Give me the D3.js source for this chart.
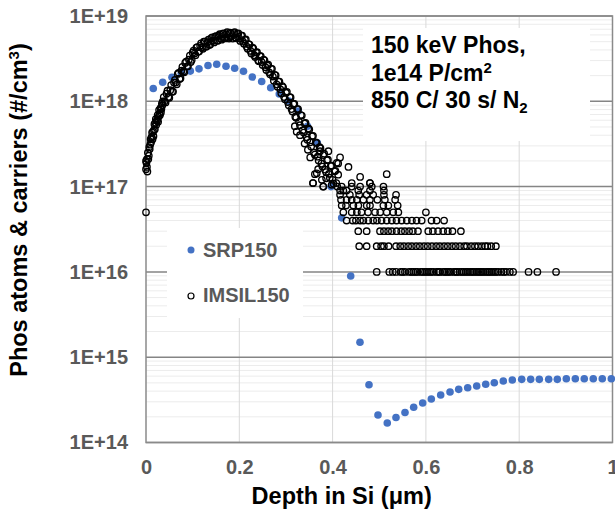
<!DOCTYPE html>
<html>
<head>
<meta charset="utf-8">
<script src="https://cdn.jsdelivr.net/npm/d3@7"></script>
<style>
body { margin: 0; background: #fff; }
text { font-family: "Liberation Sans", Arial, sans-serif; font-weight: bold; }
</style>
</head>
<body>
<svg id="view" width="615" height="514"></svg>
<script>
// SRP150 (carriers), depth in um, conc in #/cm3
var srpDepth = [0.0156,0.0358,0.0557,0.0757,0.095,0.1136,0.1329,0.1516,0.1715,0.1901,0.209,0.2279,0.248,0.2673,0.2857,0.3059,0.3265,0.3462,0.3672,0.3966,0.4195,0.4388,0.4587,0.478,0.4973,0.5172,0.5359,0.5552,0.5738,0.5931,0.6116,0.6317,0.6517,0.6703,0.6896,0.7089,0.7282,0.7466,0.7659,0.7852,0.8054,0.8246,0.8431,0.8632,0.8817,0.901,0.9203,0.9395,0.9588,0.9781,0.9975];
var srpConc = [1.41e18,1.67e18,1.91e18,2.13e18,2.26e18,2.40e18,2.63e18,2.72e18,2.58e18,2.44e18,2.25e18,1.93e18,1.71e18,1.44e18,1.22e18,1.01e18,7.7e17,5.1e17,3.27e17,1.0e17,4.3e16,8.95e15,1.5e15,4.76e14,2.1e14,1.69e14,1.96e14,2.25e14,2.59e14,2.9e14,3.24e14,3.6e14,3.91e14,4.2e14,4.39e14,4.6e14,4.81e14,5.02e14,5.26e14,5.41e14,5.5e14,5.5e14,5.5e14,5.5e14,5.5e14,5.6e14,5.6e14,5.6e14,5.6e14,5.6e14,5.6e14];

// IMSIL150 (atoms): main profile [depth, conc]
var imsilBody = [
[0.000,1.6e17],[0.000,2.0e17],[0.000,5.0e16],[0.002,2.1e17],[0.002,1.7e17],[0.003,1.5e17],
[0.004,2.5e17],[0.006,2.3e17],[0.008,2.75e17],[0.010,3.6e17],[0.012,3.8e17],[0.014,3.6e17],
[0.016,3.9e17],[0.018,5.4e17],[0.020,5.6e17],[0.022,5.3e17],[0.024,6.0e17],[0.026,5.75e17],
[0.028,7.9e17],[0.030,6.9e17],[0.032,7.4e17],[0.034,9.4e17],[0.036,1.0e18],[0.040,1.0e18],
[0.044,1.23e18],[0.048,1.12e18],[0.052,1.35e18],[0.056,1.29e18],[0.060,1.66e18],[0.064,1.66e18],
[0.068,2.09e18],[0.072,1.82e18],[0.076,2.29e18],[0.080,2.24e18],[0.084,2.82e18],[0.088,2.57e18],
[0.092,3.09e18],[0.096,2.88e18],[0.100,3.72e18],[0.104,3.63e18],[0.108,4.27e18],[0.112,3.8e18],
[0.116,4.47e18],[0.120,4.27e18],[0.124,5.0e18],[0.128,4.37e18],[0.132,4.95e18],[0.136,4.57e18],
[0.140,5.5e18],[0.144,5.13e18],[0.148,5.75e18],[0.152,5.13e18],[0.156,5.9e18],[0.160,5.43e18],
[0.164,6.17e18],[0.168,5.5e18],[0.172,6.1e18],[0.176,5.56e18],[0.180,6.38e18],[0.184,5.82e18],
[0.188,6.31e18],[0.192,5.56e18],[0.196,6.17e18],[0.200,5.43e18],[0.204,5.9e18],[0.208,5.0e18],
[0.212,5.25e18],[0.216,4.37e18],[0.220,4.68e18],[0.224,3.89e18],[0.228,4.27e18],[0.232,3.47e18],
[0.236,3.72e18],[0.240,3.02e18],[0.244,3.39e18],[0.248,2.88e18],[0.252,3.09e18],[0.256,2.51e18],
[0.260,2.63e18],[0.264,2.19e18],[0.268,2.4e18],[0.272,1.95e18],[0.276,2.04e18],[0.280,1.58e18],
[0.284,1.7e18],[0.288,1.38e18],[0.292,1.51e18],[0.296,1.12e18],[0.300,1.26e18],[0.304,9.8e17],
[0.308,1.12e18],[0.312,8.1e17],[0.316,9.3e17],[0.320,6.6e17],[0.324,8.1e17],[0.328,5.75e17],
[0.332,6.9e17],[0.336,4.57e17],[0.340,5.5e17],[0.344,3.8e17],[0.348,4.8e17],[0.352,3.3e17],
[0.356,3.9e17],[0.360,2.5e17],[0.364,3.3e17],[0.368,2.24e17],[0.372,2.9e17],[0.376,1.86e17],
[0.380,2.34e17],[0.384,1.58e17],[0.388,2.04e17],[0.392,1.41e17],[0.396,1.74e17],[0.400,1.2e17],
[0.404,1.51e17],[0.408,1.1e17],[0.412,1.38e17],[0.416,9e16]
];
// the in-between depth bins of the same profile
var imsilBody2 = [
[0.001,1.9e17],[0.005,2.1e17],[0.007,2.9e17],[0.009,3.1e17],[0.011,3.3e17],[0.013,4.3e17],
[0.015,4.4e17],[0.017,4.6e17],[0.019,4.7e17],[0.021,6.2e17],[0.023,5.9e17],[0.025,6.9e17],
[0.027,6.6e17],[0.029,7.2e17],[0.031,8.3e17],[0.033,8.1e17],[0.035,9.0e17],
[0.038,1.12e18],[0.042,9.7e17],[0.046,1.33e18],[0.050,1.1e18],[0.054,1.55e18],[0.058,1.3e18],
[0.062,1.78e18],[0.066,1.58e18],[0.070,2.16e18],[0.074,1.86e18],[0.078,2.54e18],[0.082,2.19e18],
[0.086,2.92e18],[0.090,2.57e18],[0.094,3.43e18],[0.098,3.05e18],[0.102,3.94e18],[0.106,3.47e18],
[0.110,4.32e18],[0.114,3.85e18],[0.118,4.79e18],[0.122,4.12e18],[0.126,5.0e18],[0.130,4.4e18],
[0.134,5.28e18],[0.138,4.68e18],[0.142,5.62e18],[0.146,4.9e18],[0.150,5.82e18],[0.154,5.13e18],
[0.158,6.12e18],[0.162,5.27e18],[0.166,6.24e18],[0.170,5.46e18],[0.174,6.46e18],[0.178,5.43e18],
[0.182,6.24e18],[0.186,5.43e18],[0.190,6.46e18],[0.194,5.47e18],[0.198,6.27e18],[0.202,5.1e18],
[0.206,5.89e18],[0.210,4.73e18],[0.214,5.31e18],[0.218,4.12e18],[0.222,4.62e18],[0.226,3.63e18],
[0.230,4.17e18],[0.234,3.31e18],[0.238,3.76e18],[0.242,2.95e18],[0.246,3.39e18],[0.250,2.66e18],
[0.254,3.02e18],[0.258,2.32e18],[0.262,2.69e18],[0.266,2.07e18],[0.270,2.4e18],[0.274,1.74e18],
[0.278,2.02e18],[0.282,1.48e18],[0.286,1.7e18],[0.290,1.24e18],[0.294,1.46e18],[0.298,1.06e18],
[0.302,1.29e18],[0.306,9.0e17],[0.310,1.11e18],[0.314,7.6e17],[0.318,9.3e17],[0.322,6.4e17],
[0.326,8.1e17],[0.330,5.25e17],[0.334,6.8e17],[0.338,4.3e17],[0.342,5.6e17],[0.346,3.55e17],
[0.350,4.68e17],[0.354,2.95e17],[0.358,3.94e17],[0.362,2.37e17],[0.366,3.24e17],[0.370,2.02e17],
[0.374,2.82e17],[0.378,1.72e17],[0.382,2.43e17],[0.386,1.48e17],[0.390,2.07e17],[0.394,1.27e17],
[0.398,1.76e17],[0.402,1.08e17],[0.406,1.53e17],[0.410,1.0e17]
];
// stray points around the fall-off
var imsilScatter = [[0.319,5.1e17],[0.323,4.4e17],[0.330,4.0e17],[0.340,3.2e17],[0.347,2.7e17],[0.352,2.2e17],[0.358,1.1e17],[0.362,1.4e17],[0.366,1.43e17],[0.369,1.6e17],[0.373,2.6e17],[0.377,1.2e17],[0.380,1.0e17],[0.386,1.25e17],[0.391,2.6e17],[0.398,1.05e17],[0.409,1.9e17],[0.412,1.87e17],[0.416,2.2e17],[0.423,9e16],[0.434,1.7e17],[0.441,1.1e17],[0.459,1.3e17],[0.480,1.1e17],[0.516,1.4e17]];
// tail: depths at which the count sits on each level
var tailLevels = [1e16,2e16,3e16,4e16,5e16,6e16,7e16,8e16,9e16,1e17,1.1e17];
var tailDepths = [
 [0.4945,0.5215,0.529,0.536,0.546,0.550,0.555,0.564,0.569,0.573,0.578,0.582,0.589,0.593,0.598,0.602,0.607,0.611,0.616,0.623,0.627,0.630,0.637,0.641,0.645,0.649,0.653,0.660,0.664,0.667,0.672,0.677,0.681,0.686,0.690,0.695,0.699,0.703,0.708,0.712,0.716,0.720,0.724,0.729,0.733,0.737,0.741,0.746,0.750,0.755,0.762,0.767,0.772,0.780,0.787,0.820,0.839,0.879],
 [0.457,0.473,0.4945,0.504,0.510,0.520,0.536,0.545,0.553,0.562,0.570,0.579,0.587,0.596,0.604,0.613,0.622,0.630,0.639,0.647,0.656,0.664,0.673,0.682,0.688,0.697,0.705,0.712,0.720,0.727,0.732,0.740,0.750],
 [0.455,0.473,0.5016,0.510,0.519,0.527,0.537,0.547,0.555,0.564,0.572,0.583,0.605,0.615,0.626,0.637,0.647,0.657,0.675],
 [0.430,0.443,0.450,0.459,0.466,0.4765,0.487,0.495,0.505,0.516,0.527,0.537,0.548,0.559,0.570,0.580,0.591,0.612,0.623,0.639],
 [0.423,0.441,0.452,0.462,0.476,0.491,0.502,0.516,0.530,0.541,0.600],
 [0.4195,0.4287,0.4445,0.4552,0.4731,0.4802,0.5088,0.5195,0.5395],
 [0.418,0.430,0.441,0.452,0.466,0.480,0.496,0.512,0.534],
 [0.416,0.437,0.457,0.473,0.487,0.510,0.536],
 [0.430,0.455,0.480,0.510],
 [0.380,0.4195,0.441,0.459,0.484,0.509],
 [0.358,0.480]
];
var decades = [1e14,1e15,1e16,1e17,1e18,1e19];
var xTicks = [0,0.2,0.4,0.6,0.8,1];

var srp = srpDepth.map((d,i) => ({x: d, y: srpConc[i]}));
var imsil = imsilBody.concat(imsilBody2, imsilScatter).map(p => ({x: p[0], y: p[1]}));
tailDepths.forEach((arr, k) => arr.forEach(d => imsil.push({x: d, y: tailLevels[k]})));

var svg = d3.select("#view");
var x = d3.scaleLinear().domain([0,1]).range([146, 612.5]);
var y = d3.scaleLog().domain([1e14,1e19]).range([442.5, 16]);

// minor grid
svg.append("g").selectAll("line")
	.data(y.ticks().filter(v => decades.indexOf(v) < 0))
	.join("line")
	.attr("x1", x(0)).attr("x2", x(1))
	.attr("y1", d => y(d)).attr("y2", d => y(d))
	.attr("stroke", "#ececec").attr("stroke-width", 1);

// vertical grid
svg.append("g").selectAll("line")
	.data(xTicks.slice(1, -1))
	.join("line")
	.attr("x1", d => x(d)).attr("x2", d => x(d))
	.attr("y1", y(1e19)).attr("y2", y(1e14))
	.attr("stroke", "#d9d9d9").attr("stroke-width", 1);

// major grid
svg.append("g").selectAll("line")
	.data(decades)
	.join("line")
	.attr("x1", x(0)).attr("x2", x(1))
	.attr("y1", d => y(d)).attr("y2", d => y(d))
	.attr("stroke", "#858585").attr("stroke-width", 1.5);

svg.append("rect")
	.attr("x", x(0)).attr("y", y(1e19))
	.attr("width", x(1) - x(0)).attr("height", y(1e14) - y(1e19))
	.attr("fill", "none").attr("stroke", "#8a8a8a").attr("stroke-width", 1.5);

// axes labels
var yAxis = svg.append("g")
	.attr("transform", "translate(" + x(0) + ",0)")
	.call(d3.axisLeft(y).tickValues(decades).tickSize(0).tickPadding(18)
		.tickFormat(d => "1E+" + Math.round(Math.log10(d))));
yAxis.select(".domain").remove();
yAxis.selectAll("text").attr("fill", "#595959").style("font-size", "20px");

var xAxis = svg.append("g")
	.attr("transform", "translate(0," + y(1e14) + ")")
	.call(d3.axisBottom(x).tickValues(xTicks).tickSize(0).tickPadding(17)
		.tickFormat(d => String(d)));
xAxis.select(".domain").remove();
xAxis.selectAll("text").attr("fill", "#595959").style("font-size", "20px");

// series
svg.append("g").selectAll("circle")
	.data(srp)
	.join("circle")
	.attr("cx", d => x(d.x)).attr("cy", d => y(d.y))
	.attr("r", 3.8).attr("fill", "#4472C4");

svg.append("g").selectAll("circle")
	.data(imsil)
	.join("circle")
	.attr("cx", d => x(d.x)).attr("cy", d => y(d.y))
	.attr("r", 3.2).attr("fill", "none")
	.attr("stroke", "#000").attr("stroke-width", 1.35);

// annotation
svg.append("rect").attr("x", 363).attr("y", 28).attr("width", 227).attr("height", 113).attr("fill", "#fff");
var note = svg.append("g").style("font-size", "23px").attr("fill", "#000");
note.append("text").attr("x", 371).attr("y", 53).text("150 keV Phos,");
var l2 = note.append("text").attr("x", 371).attr("y", 80.6);
l2.append("tspan").text("1e14 P/cm");
l2.append("tspan").attr("dy", -8).style("font-size", "15px").text("2");
var l3 = note.append("text").attr("x", 371).attr("y", 108.3);
l3.append("tspan").text("850 C/ 30 s/ N");
l3.append("tspan").attr("dy", 5).style("font-size", "15px").text("2");

// legend
svg.append("rect").attr("x", 167).attr("y", 228).attr("width", 136).attr("height", 90).attr("fill", "#fff");
svg.append("circle").attr("cx", 191).attr("cy", 250).attr("r", 3.5).attr("fill", "#4472C4");
svg.append("circle").attr("cx", 191).attr("cy", 296).attr("r", 3).attr("fill", "none").attr("stroke", "#000").attr("stroke-width", 1.2);
svg.append("text").attr("x", 203).attr("y", 257).attr("fill", "#595959").style("font-size", "20px").text("SRP150");
svg.append("text").attr("x", 203).attr("y", 302).attr("fill", "#595959").style("font-size", "20px").text("IMSIL150");

// titles
var yt = svg.append("text")
	.attr("transform", "translate(27,210) rotate(-90)")
	.attr("text-anchor", "middle").style("font-size", "23.5px").attr("fill", "#000");
yt.append("tspan").text("Phos atoms & carriers (#/cm");
yt.append("tspan").attr("dy", -8).style("font-size", "15px").text("3");
yt.append("tspan").attr("dy", 8).text(")");

svg.append("text")
	.attr("x", 341.7).attr("y", 504)
	.attr("text-anchor", "middle").style("font-size", "23.5px").attr("fill", "#000")
	.text("Depth in Si (\u03bcm)");
</script>
</body>
</html>
